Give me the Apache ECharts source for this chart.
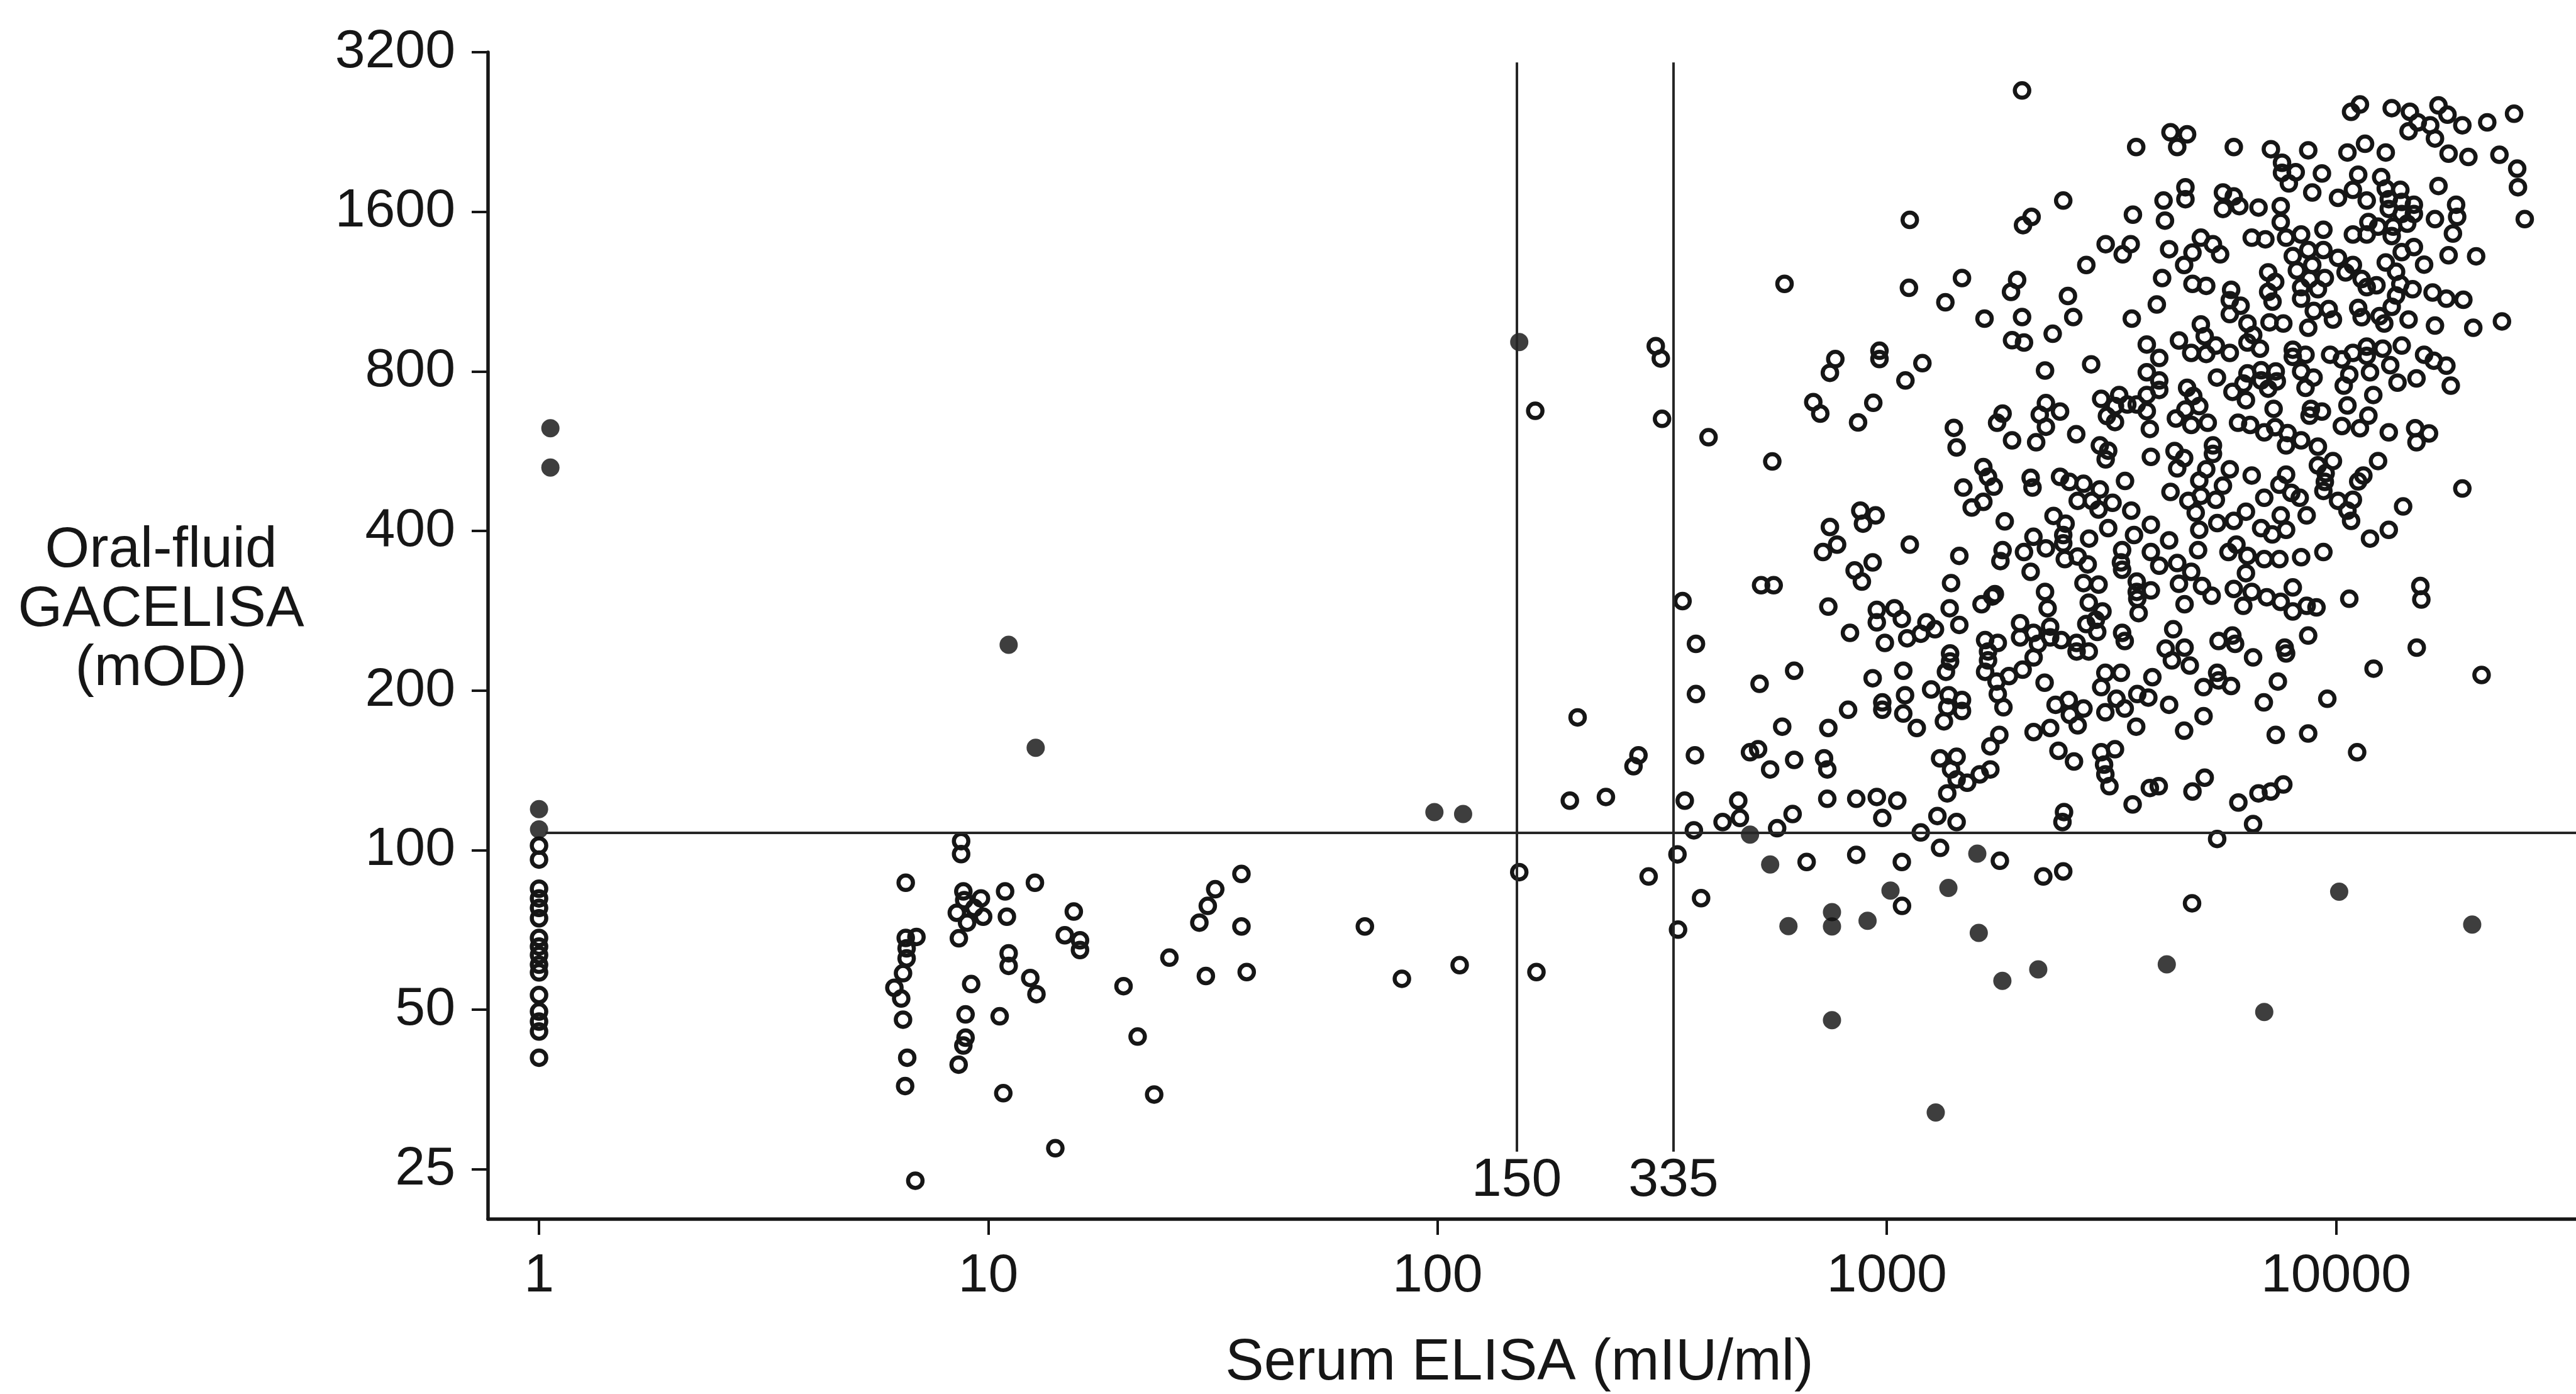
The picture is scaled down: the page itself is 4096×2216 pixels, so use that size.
<!DOCTYPE html>
<html>
<head>
<meta charset="utf-8">
<script src="https://cdn.jsdelivr.net/npm/echarts@6/dist/echarts.min.js"></script>
<style>
  html, body { margin: 0; padding: 0; background: #fff; }
  #chart { width: 4096px; height: 2216px; }
</style>
</head>
<body>
<div id="chart"></div>
<script>
// Tick values of the two log axes
const serumTicks = [1, 10, 100, 1000, 10000];
const oralTicks = [25, 50, 100, 200, 400, 800, 1600, 3200];

// Cut-off values drawn as reference lines
const serumCutoffs = [150, 335];
const oralCutoff = 108;

// Samples negative on the reference assay (filled dots): [serum mIU/ml, oral-fluid mOD]
const filledDots = [
  [1, 119.5], [1, 109.4], [1.06, 625], [1.06, 527], [11.1, 244], [12.75, 156],
  [98.4, 118], [114, 117], [152, 909], [496, 107], [550, 94], [1590, 98.5],
  [604, 71.9], [755, 76.4], [755, 71.8], [906, 73.6], [1019, 83.9], [1371, 84.9],
  [1602, 69.8], [1808, 56.7], [2173, 59.6], [4199, 60.9], [6920, 49.5],
  [10160, 83.5], [20090, 72.4], [755, 47.8], [1285, 32.0]
];

// All other samples (open circles): [serum mIU/ml, oral-fluid mOD]
const openCircles = [
  // serum value 1
  [1,102],[1,96],[1,84.6],[1,81.1],[1,77.8],[1,74.4],[1,68.3],[1,65.8],[1,63.4],[1,60.8],
  [1,58.8],[1,53.3],[1,49.6],[1,47.5],[1,45.5],[1,40.6],
  // serum 6 - 100
  [8.70,104],[8.70,98.3],[6.55,86.8],[12.7,86.8],[10.9,83.6],[8.80,83.6],[9.63,81.1],[8.84,80.5],
  [8.51,76.2],[9.31,77.8],[9.74,74.9],[8.97,73.0],[8.60,68.2],[11.0,74.9],[15.5,76.6],[14.8,69.1],
  [16.0,67.6],[16.0,64.8],[6.55,68.3],[6.92,68.6],[6.58,65.3],[6.58,62.5],[6.46,58.6],[6.18,55.0],
  [6.40,52.5],[6.46,47.9],[6.60,40.6],[6.53,35.9],[11.1,63.9],[11.1,60.5],[12.4,57.4],[12.8,53.5],
  [9.16,55.9],[8.90,49.0],[10.6,48.6],[8.90,44.3],[8.80,42.8],[8.59,39.4],[10.8,34.8],[14.1,27.4],
  [6.88,23.8],[20.0,55.4],[21.5,44.5],[23.4,34.6],[25.3,62.7],[29.5,73.0],[30.8,78.5],[32.0,84.4],
  [36.6,90.2],[36.6,71.8],[30.5,57.9],[37.6,58.9],[68.9,71.8],[83.3,57.2],
  // serum 100 - 450
  [165,674],[306,893],[314,846],[316,651],[401,601],[351,295],[376,245],[376,197],[205,178],
  [280,151],[273,144],[374,151],[197,124],[237,126],[152,90.9],[112,60.7],[166,58.9],[295,89.2],
  [355,124],[372,109],[342,98.2],[386,81.2],[343,70.8],
  // low oral-fluid values, serum above 1000
  [2230,89.2],[2470,91.2],[4780,79.4],[1081,78.5],
  // serum 400 - 3800, upper part
  [2000,2710],[3590,2120],[2470,1680],[1125,1545],[2100,1565],[2010,1510],[3530,1580],[3070,1390],
  [3490,1390],[3350,1330],[2780,1270],[592,1170],[1120,1150],[1470,1200],[1950,1190],[1890,1130],
  [1350,1080],[2530,1110],[1650,1006],[2000,1013],[2600,1013],[3510,1006],
  // serum 3700 - 34000, upper part
  [11300,2550],[10800,2470],[13300,2510],[14600,2470],[16900,2540],[17700,2440],[15200,2360],
  [16200,2330],[14500,2270],[19100,2330],[21700,2360],[24900,2450],[16600,2200],[17800,2060],
  [19700,2030],[23100,2050],[25300,1930],[25400,1780],[26300,1550],[34300,1450],
  [4280,2260],[4660,2240],[4430,2120],[5920,2120],[7160,2100],[8670,2090],[7580,1980],[8130,1900],
  [7580,1895],[7850,1810],[9300,1890],[8850,1740],[10600,2070],[11600,2150],[12900,2070],
  [11200,1880],[10900,1760],[10100,1700],[11700,1680],[12600,1860],[12900,1770],[13900,1760],
  [13100,1690],[14000,1670],[14900,1650],[13100,1620],[14000,1585],[14900,1585],[16900,1790],
  [18500,1650],[18600,1565],[18200,1456],[16600,1550],
  [4130,1680],[4620,1780],[4620,1690],[4160,1540],[5600,1740],[5920,1710],[5600,1620],[6090,1640],
  [6720,1630],[7530,1640],[7530,1530],[6490,1430],[6960,1420],[7740,1430],[8360,1450],[9370,1480],
  [10900,1450],[11700,1450],[11800,1530],[12400,1500],[13400,1500],[14400,1520],[13300,1440],
  [4250,1360],[5000,1430],[5320,1390],[4790,1340],[5520,1330],[4590,1270],[4100,1200],[4790,1170],
  [5140,1160],[3990,1070],[5840,1140],[5800,1090],[6130,1064],[5800,1026],[6350,985],[7060,1230],
  [7320,1180],[7060,1130],[7220,1083],[7110,990],[7630,985],[8010,1320],[8670,1355],[9370,1355],
  [10100,1310],[8180,1240],[8850,1270],[9440,1200],[8730,1195],[8360,1153],[9110,1143],[8360,1097],
  [10500,1230],[10900,1270],[11400,1195],[11700,1153],[12300,1163],[12900,1284],[13600,1233],
  [14000,1343],[14900,1373],[15700,1272],[13900,1169],[13600,1112],[14800,1143],[13300,1059],
  [16400,1127],[17600,1097],[19200,1092],[17800,1325],[20500,1319],[8920,1040],[9630,1049],
  [9840,1002],[11200,1054],[11400,1012],[12500,1017],[12800,985],[14500,1002],[16600,976],
  [20200,967],[23400,994],[5000,981],[8670,967],
  // serum 400 - 3800, middle part
  [1900,916],[2020,907],[2340,942],[768,844],[747,795],[963,875],[963,844],[1200,829],[1100,769],
  [2250,803],[2850,825],[686,700],[711,666],[933,698],[863,641],[1410,626],[1430,575],[1810,666],
  [1760,640],[1900,593],[2260,697],[2190,663],[2430,672],[2260,629],[2150,588],[2640,609],
  [3000,710],[3290,722],[3220,688],[3090,659],[3220,642],[3430,693],[3600,693],[2980,580],
  [3110,567],[3070,546],[556,541],[1640,528],[1680,506],[1730,485],[1480,483],[1640,454],
  [1545,443],[2090,504],[2110,483],[2430,506],[2550,495],[2740,491],[2980,479],[2660,456],
  [2860,456],[3180,452],[2960,439],[3390,497],[3500,437],[873,437],[944,428],[885,413],[747,407],
  [775,377],[721,365],[1125,377],[1830,417],[2350,427],[2500,413],[2470,393],[2470,379],
  [2120,390],[2260,371],[2020,365],[1810,368],[1790,351],[2490,354],[2660,358],[2800,346],
  [2820,387],[3110,405],[3550,393],[3340,368],[3320,349],[3340,338],[3600,321],[3600,307],
  [1450,359],[930,349],[848,337],[880,321],[2090,335],[525,316],[560,316],[1390,319],[2740,319],
  [2960,317],[2250,307],[1740,304],
  // serum 3700 - 34000, middle part
  [4470,915],[5100,932],[3790,899],[4760,867],[5140,863],[5400,895],[5800,867],[6350,907],
  [6770,883],[6540,937],[4040,848],[3790,797],[4040,769],[3790,722],[4040,738],[5430,779],
  [6350,793],[6810,804],[7340,800],[6220,759],[6810,769],[7380,766],[5880,732],[6300,706],
  [7060,742],[4660,745],[4810,719],[4620,678],[4400,652],[4960,688],[5180,640],[4760,634],
  [3790,673],[3850,623],[8010,879],[8550,860],[8010,852],[8360,800],[8910,779],[8550,745],
  [8790,680],[9300,672],[8730,660],[9700,860],[10300,843],[10900,867],[11700,891],[11700,856],
  [12700,883],[13200,822],[14000,895],[10700,789],[10400,752],[11900,797],[12100,722],[10600,690],
  [13700,762],[15100,776],[15700,860],[16500,838],[17600,820],[18000,752],[7260,680],[6050,640],
  [6440,634],[6920,614],[7320,628],[7800,612],[7740,580],[8360,593],[9110,577],[11800,660],
  [10300,631],[11300,625],[13100,614],[15000,625],[16100,611],[15100,588],[3870,552],[4370,566],
  [4590,549],[4430,525],[5320,580],[5320,559],[5140,523],[5800,523],[4960,498],[5600,487],
  [4280,474],[4690,456],[5000,466],[5400,458],[4870,433],[6490,509],[7740,511],[7480,489],
  [7950,472],[8300,462],[8600,428],[6920,462],[9110,532],[9840,542],[9480,514],[9440,495],
  [9370,476],[10100,456],[10900,458],[10600,437],[10800,418],[12400,542],[11500,509],[11200,496],
  [14100,445],[19100,481],[3870,411],[4960,402],[5440,414],[5920,418],[6300,435],[7530,428],
  [6810,405],[7740,402],[7210,394],[11900,387],[13100,402],[4250,384],[3870,365],[4930,368],
  [5760,365],[6000,377],[6350,359],[6920,354],[7480,354],[8360,357],[9370,365],[4040,344],
  [4430,348],[4760,335],[4470,318],[5030,315],[3870,309],[6300,333],[5920,311],[6490,307],
  [7010,300],[8010,313],[15400,315],[10700,298],
  // serum 400 - 3800, lower part
  [741,288],[950,284],[1040,286],[950,269],[1080,273],[828,257],[990,246],[1110,251],[1190,256],
  [1225,269],[1280,261],[1380,286],[1450,266],[1625,291],[1717,301],[2280,286],[2815,293],
  [3020,282],[2920,272],[2780,267],[2940,258],[1980,268],[2120,257],[1980,252],[2310,264],
  [2310,252],[2445,249],[2645,246],[2645,237],[2815,237],[2170,245],[3610,298],[3635,280],
  [3340,257],[3385,248],[1655,249],[1766,246],[1680,237],[1680,228],[1655,217],[1755,208],
  [1766,197],[1818,186],[1870,213],[2006,219],[2122,231],[1383,235],[1383,227],[1354,217],
  [2245,207],[521,206],[622,218],[930,211],[1088,218],[1255,201],[1373,196],[1470,192],[1363,186],
  [1470,183],[1340,175],[1098,196],[977,190],[977,184],[1088,181],[1166,170],[820,184],[741,170],
  [585,171],[3065,216],[3320,216],[3000,203],[3245,193],[3065,182],[3385,185],[3610,197],
  [2375,188],[2540,192],[2740,185],[2555,180],[2660,172],[2122,167],[2310,170],[3590,171],
  [1780,165],[1700,157],[2410,154],[2610,147],[3000,153],[3220,155],[3045,145],[3065,139],
  [3130,132],[3525,122],[496,153],[517,155],[550,142],[622,148],[725,149],[737,142],[1314,149],
  [1430,150],[1390,142],[1430,136],[1510,134],[1610,139],[1700,142],[1363,128],[467,124],
  [431,113],[471,115],[570,110],[617,117],[737,125],[855,125],[950,126],[1055,124],[977,115],
  [1296,116],[1430,113],[1190,108],[2480,118],[2460,113],[663,95],[855,98],[1080,95],[1314,101],
  [1785,95.5],
  // serum 3700 - 34000, lower part
  [4600,291],[6215,289],[7527,294],[8010,282],[8600,289],[9045,287],[15480,297],[5285,302],
  [4340,261],[4175,240],[4310,228],[4600,241],[4725,223],[5476,248],[5877,254],[5960,245],
  [6535,231],[7685,241],[7740,235],[8667,254],[3900,212],[5436,216],[5070,203],[5476,209],
  [5837,204],[7420,208],[6905,190],[9560,193],[12120,220],[15120,241],[21080,214],[3820,194],
  [4250,188],[5070,179],[4590,168],[7340,165],[8667,166],[11140,153],[3850,131],[4030,132],
  [4790,129],[5100,137],[6060,123],[6718,128],[7160,129],[7630,133],[6535,112],[5436,105]
];

const ink = '#161616';
const fontFamily = '"Liberation Sans", Arial, Helvetica, sans-serif';
const tickFont = 86;

const chart = echarts.init(document.getElementById('chart'), null, { renderer: 'canvas' });

const cutoffLines = [
  [{ coord: [1.034, oralCutoff] }, { coord: [34200, oralCutoff] }]
].concat(serumCutoffs.map(v => [
  { coord: [v, 27], label: { show: true, position: 'start', formatter: String(v), distance: 4 } },
  { coord: [v, 3060] }
]));

chart.setOption({
  backgroundColor: '#ffffff',
  animation: false,
  grid: { left: 776, right: 0, top: 83, bottom: 278, containLabel: false },
  xAxis: {
    type: 'log',
    logBase: 10,
    min: 0.77,
    max: 34200,
    axisLine: { show: true, onZero: false, lineStyle: { color: ink, width: 5.5 } },
    axisTick: { show: true, length: 25, inside: false, customValues: serumTicks,
      lineStyle: { color: ink, width: 4 } },
    axisLabel: { show: true, customValues: serumTicks, margin: 48, color: ink,
      fontSize: tickFont, fontFamily: fontFamily, formatter: v => String(Math.round(v)) },
    splitLine: { show: false },
    minorTick: { show: false },
    minorSplitLine: { show: false }
  },
  yAxis: {
    type: 'log',
    logBase: 2,
    min: 20.14,
    max: 3200,
    axisLine: { show: true, onZero: false, lineStyle: { color: ink, width: 5.5 } },
    axisTick: { show: true, length: 26, inside: false, customValues: oralTicks,
      lineStyle: { color: ink, width: 4 } },
    axisLabel: { show: true, customValues: oralTicks, margin: 52, color: ink,
      fontSize: tickFont, fontFamily: fontFamily, formatter: v => String(Math.round(v)) },
    splitLine: { show: false }
  },
  graphic: [
    {
      type: 'text',
      x: 256, y: 970,
      style: {
        text: 'Oral-fluid\nGACELISA\n(mOD)',
        fill: ink, fontSize: 91, fontFamily: fontFamily,
        lineHeight: 94, align: 'center', verticalAlign: 'middle'
      }
    },
    {
      type: 'text',
      x: 2416, y: 2168,
      style: {
        text: 'Serum ELISA (mIU/ml)',
        fill: ink, fontSize: 92, fontFamily: fontFamily,
        align: 'center', verticalAlign: 'middle'
      }
    }
  ],
  series: [
    {
      name: 'open',
      type: 'scatter',
      data: openCircles,
      symbol: 'circle',
      symbolSize: 23,
      itemStyle: { color: 'rgba(255,255,255,0)', borderColor: ink, borderWidth: 6.5, opacity: 1 },
      emphasis: { disabled: true },
      markLine: {
        silent: true,
        symbol: ['none', 'none'],
        lineStyle: { color: '#262626', width: 4, type: 'solid' },
        label: { show: false, color: ink, fontSize: tickFont, fontFamily: fontFamily },
        emphasis: { disabled: true },
        data: cutoffLines
      }
    },
    {
      name: 'filled',
      type: 'scatter',
      data: filledDots,
      symbol: 'circle',
      symbolSize: 29,
      itemStyle: { color: '#0e0e0e' },
      emphasis: { disabled: true }
    }
  ]
});
</script>
</body>
</html>
